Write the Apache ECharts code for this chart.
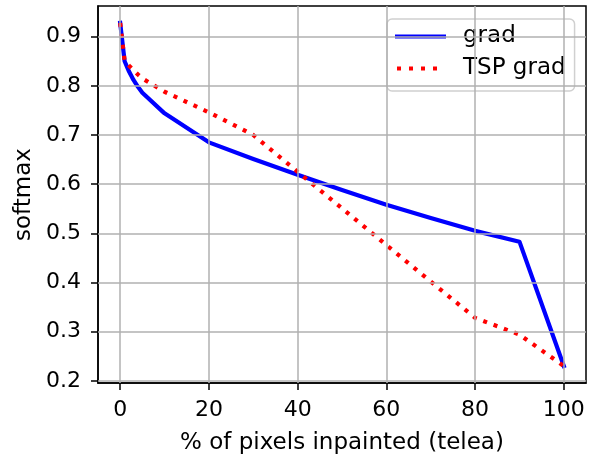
<!DOCTYPE html>
<html>
<head>
<meta charset="utf-8">
<script src="https://cdn.jsdelivr.net/npm/echarts@6/dist/echarts.min.js"></script>
<style>
  html, body { margin: 0; padding: 0; background: #ffffff; }
  #chart { width: 596px; height: 456px; }
</style>
</head>
<body>
<div id="chart"></div>
<script>
// Percentage of pixels inpainted (telea) at each measurement
const pctInpainted = [0, 1, 2, 3, 4, 5, 10, 20, 30, 40, 50, 60, 70, 80, 90, 100];
// Softmax score for the plain gradient ordering
const gradSoftmax = [0.928, 0.850, 0.829, 0.812, 0.798, 0.786, 0.744, 0.685, 0.651, 0.619, 0.588, 0.558, 0.531, 0.505, 0.483, 0.230];
// Softmax score for the TSP gradient ordering
const tspGradSoftmax = [0.928, 0.851, 0.841, 0.832, 0.823, 0.815, 0.788, 0.746, 0.700, 0.625, 0.551, 0.476, 0.402, 0.328, 0.294, 0.230];

// Tick positions on both axes
const xTicks = [0, 20, 40, 60, 80, 100];
const yTicks = [0.2, 0.3, 0.4, 0.5, 0.6, 0.7, 0.8, 0.9];

const seriesNames = ['grad', 'TSP grad'];

const FONT = 'DejaVu Sans';
const FS = 23;       // axis names and legend
const TICK_FS = 22;  // tick labels
const GRID_COLOR = '#b0b0b0';

// Legend swatches: a solid bar and a row of square dots (leading/trailing moveTo
// points pin the bounding box so the dots keep their offsets)
const ICON_SOLID = 'path://M0,0h51v4h-51z';
const ICON_DOTTED = 'path://M0,0M51,4M2,0h4v4h-4zM14,0h4v4h-4zM26,0h4v4h-4zM38,0h4v4h-4z';

const pairs = (xs, ys) => xs.map((x, i) => [x, ys[i]]);

const chart = echarts.init(document.getElementById('chart'), null, { renderer: 'canvas' });

chart.setOption({
  animation: false,
  backgroundColor: '#ffffff',
  textStyle: { fontFamily: FONT },
  grid: {
    left: 98, right: 10, top: 6, bottom: 73,
    containLabel: false,
    outerBoundsMode: 'none',
    show: true,
    borderColor: '#000000',
    borderWidth: 1.5,
    backgroundColor: 'transparent'
  },
  legend: {
    data: [
      { name: seriesNames[0], icon: ICON_SOLID, itemStyle: { color: '#0000ff', borderWidth: 0 }, lineStyle: { width: 0 } },
      { name: seriesNames[1], icon: ICON_DOTTED, itemStyle: { color: '#ff0000', borderWidth: 0 }, lineStyle: { width: 0 } }
    ],
    orient: 'vertical',
    left: 387,
    top: 19,
    padding: [6, 9, 11, 8],
    itemGap: 9,
    itemWidth: 51,
    itemHeight: 4,
    itemStyle: { borderWidth: 0 },
    lineStyle: { width: 0 },
    backgroundColor: 'rgba(255,255,255,0.8)',
    borderColor: '#d0d0d0',
    borderWidth: 1.5,
    borderRadius: 5,
    textStyle: { fontFamily: FONT, fontSize: FS, color: '#000000', padding: [0, 0, 0, 12] }
  },
  xAxis: {
    type: 'value',
    min: -5,
    max: 105,
    name: '% of pixels inpainted (telea)',
    nameLocation: 'middle',
    nameGap: 49,
    nameTextStyle: { fontFamily: FONT, fontSize: FS, color: '#000000' },
    axisLine: { show: true, onZero: false, lineStyle: { color: '#000000', width: 1.5 } },
    axisTick: { show: true, length: 7, lineStyle: { color: '#000000', width: 1.5 }, customValues: xTicks },
    axisLabel: { fontFamily: FONT, fontSize: TICK_FS, color: '#000000', margin: 16, customValues: xTicks, formatter: v => String(v) },
    splitLine: { show: false }
  },
  yAxis: {
    type: 'value',
    min: 0.1955,
    max: 0.9624,
    name: 'softmax',
    nameLocation: 'middle',
    nameRotate: 90,
    nameGap: 57,
    nameTextStyle: { fontFamily: FONT, fontSize: FS, color: '#000000' },
    axisLine: { show: true, onZero: false, lineStyle: { color: '#000000', width: 1.5 } },
    axisTick: { show: true, length: 7, lineStyle: { color: '#000000', width: 1.5 }, customValues: yTicks },
    axisLabel: { fontFamily: FONT, fontSize: TICK_FS, color: '#000000', margin: 17, customValues: yTicks, formatter: v => v.toFixed(1) },
    splitLine: { show: false }
  },
  series: [
    {
      // background grid lines at the tick positions
      name: '_grid',
      type: 'line',
      data: [],
      silent: true,
      z: 1,
      markLine: {
        silent: true,
        symbol: ['none', 'none'],
        label: { show: false },
        emphasis: { disabled: true },
        lineStyle: { color: GRID_COLOR, width: 1.5, type: 'solid' },
        data: xTicks.map(v => ({ xAxis: v })).concat(yTicks.map(v => ({ yAxis: v })))
      }
    },
    {
      name: seriesNames[0],
      type: 'line',
      data: pairs(pctInpainted, gradSoftmax),
      showSymbol: false,
      symbol: 'none',
      z: 3,
      lineStyle: { color: '#0000ff', width: 4.2, join: 'round', cap: 'square' },
      itemStyle: { color: '#0000ff' }
    },
    {
      name: seriesNames[1],
      type: 'line',
      data: pairs(pctInpainted, tspGradSoftmax),
      showSymbol: false,
      symbol: 'none',
      z: 4,
      lineStyle: { color: '#ff0000', width: 4.2, type: [4, 7], cap: 'butt' },
      itemStyle: { color: '#ff0000' }
    }
  ]
});
</script>
</body>
</html>
